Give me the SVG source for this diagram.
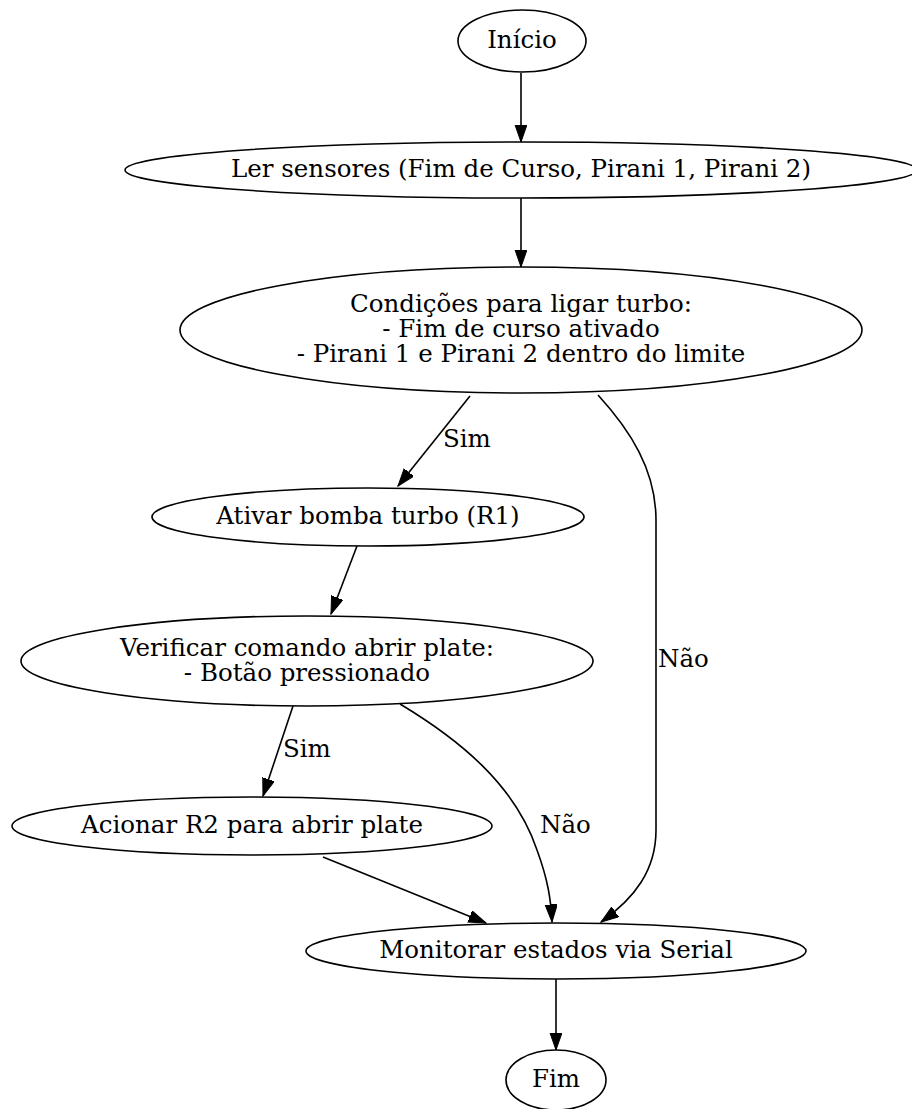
<svg xmlns="http://www.w3.org/2000/svg" width="912" height="1109" viewBox="0 0 912 1109">
<style>
  .n ellipse { fill: #ffffff; stroke: #000000; stroke-width: 1.6; }
  .n text, .lbl { font-family: "DejaVu Serif", "Liberation Serif", serif; font-size: 24.5px; fill: #000000; text-anchor: middle; }
  .lbl { text-anchor: start; }
  .e { fill: none; stroke: #000000; stroke-width: 1.6; marker-end: url(#ah); }
</style>
<defs>
  <marker id="ah" markerUnits="userSpaceOnUse" markerWidth="19" markerHeight="14" refX="17.5" refY="6.1" orient="auto">
    <path d="M0,0 L17.5,6.1 L0,12.2 Z" fill="#000000" stroke="#000000" stroke-width="1"/>
  </marker>
</defs>
<rect width="912" height="1109" fill="#ffffff"/>

<g id="connectors">
  <path class="e" d="M521,73 L521,142"/>
  <path class="e" d="M521,198 L521,267"/>
  <path class="e" d="M470,396 L398,486"/>
  <path class="e" d="M598,395 C630,430 656,470 656,520 L656,830 C656,870 635,898 601,922"/>
  <path class="e" d="M357,546 L331,614"/>
  <path class="e" d="M293,706 L263,796"/>
  <path class="e" d="M400,704 C460,740 515,785 537,850 C548,880 551,900 552,922"/>
  <path class="e" d="M323,857 L486,923"/>
  <path class="e" d="M556,979 L556,1050"/>
  <text class="lbl" x="443" y="447">Sim</text>
  <text class="lbl" x="658" y="667">Não</text>
  <text class="lbl" x="283" y="757">Sim</text>
  <text class="lbl" x="540" y="833">Não</text>
</g>

<g id="inicio" class="n">
  <ellipse cx="522" cy="41" rx="64" ry="31"/>
  <text x="522" y="48">Início</text>
</g>
<g id="ler" class="n">
  <ellipse cx="521" cy="170" rx="396" ry="28"/>
  <text x="521" y="177">Ler sensores (Fim de Curso, Pirani 1, Pirani 2)</text>
</g>
<g id="condicoes" class="n">
  <ellipse cx="521" cy="330" rx="341" ry="63"/>
  <text x="521" y="312">Condições para ligar turbo:</text>
  <text x="521" y="337">- Fim de curso ativado</text>
  <text x="521" y="362">- Pirani 1 e Pirani 2 dentro do limite</text>
</g>
<g id="ativar" class="n">
  <ellipse cx="368" cy="517" rx="216" ry="29"/>
  <text x="368" y="524">Ativar bomba turbo (R1)</text>
</g>
<g id="verificar" class="n">
  <ellipse cx="307" cy="661" rx="286" ry="45"/>
  <text x="307" y="656">Verificar comando abrir plate:</text>
  <text x="307" y="681">- Botão pressionado</text>
</g>
<g id="acionar" class="n">
  <ellipse cx="252" cy="826" rx="240" ry="29"/>
  <text x="252" y="833">Acionar R2 para abrir plate</text>
</g>
<g id="monitorar" class="n">
  <ellipse cx="556" cy="951" rx="250" ry="28"/>
  <text x="556" y="958">Monitorar estados via Serial</text>
</g>
<g id="fim" class="n">
  <ellipse cx="556" cy="1080" rx="50" ry="30"/>
  <text x="556" y="1087">Fim</text>
</g>
</svg>
